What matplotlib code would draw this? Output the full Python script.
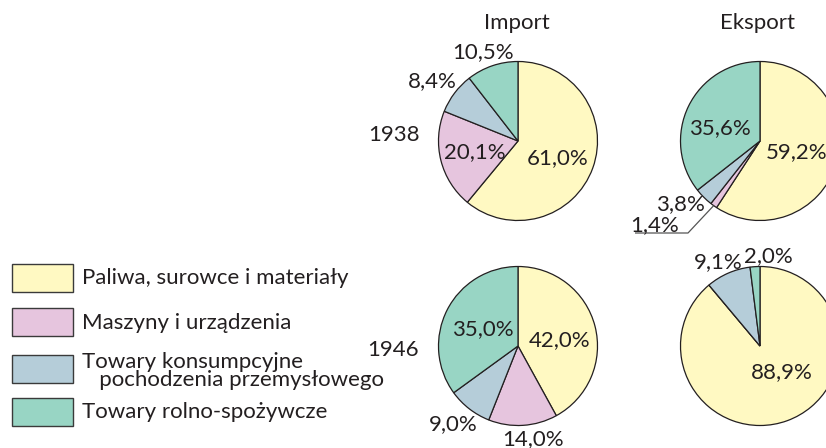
import matplotlib
matplotlib.use("Agg")
import matplotlib.pyplot as plt
from matplotlib.patches import Rectangle
import numpy as np

# data (shares in %), order: fuels, machines, consumer goods, agri-food
categories = ["Paliwa, surowce i materiały",
              "Maszyny i urządzenia",
              "Towary konsumpcyjne\n   pochodzenia przemysłowego",
              "Towary rolno-spożywcze"]
import_1938 = [61.0, 20.1, 8.4, 10.5]
export_1938 = [59.2, 1.4, 3.8, 35.6]
import_1946 = [42.0, 14.0, 9.0, 35.0]
export_1946 = [88.9, 0.0, 9.1, 2.0]
years = ["1938", "1946"]
columns = ["Import", "Eksport"]

colors = ["#fff9c2", "#e6c5de", "#b5cdd9", "#98d5c4"]
ink = "#231f20"

plt.rcParams['font.family'] = ['Lato', 'DejaVu Sans']
W, H = 826, 448
fig = plt.figure(figsize=(W / 100, H / 100), dpi=100)
ax = fig.add_axes([0, 0, 1, 1])


def Y(y):
    # pixel row (from top) -> data y
    return H - y


fs = 16
R = 79.5
centers = {("1938", "Import"): (518, 141), ("1938", "Eksport"): (760, 141),
           ("1946", "Import"): (518, 346), ("1946", "Eksport"): (760, 346)}
series = {("1938", "Import"): import_1938, ("1938", "Eksport"): export_1938,
          ("1946", "Import"): import_1946, ("1946", "Eksport"): export_1946}

# label positions (pixels) for each slice, None = no label
label_pos = {
    ("1938", "Import"): [(558, 158), (475, 152), (432, 81), (483, 52)],
    ("1938", "Eksport"): [(797, 152), (655, 225), (680, 204), (720, 128)],
    ("1946", "Import"): [(560, 340), (533, 439), (453, 424), (483, 329)],
    ("1946", "Eksport"): [(782, 372), None, (718, 262), (768, 256)],
}

for key, vals in series.items():
    cx, cy = centers[key]
    ax.pie(vals, colors=colors, startangle=90, counterclock=False,
           center=(cx, Y(cy)), radius=R,
           wedgeprops=dict(edgecolor=ink, linewidth=0.9))
    for v, pos in zip(vals, label_pos[key]):
        if pos is None:
            continue
        ax.text(pos[0], Y(pos[1]), f"{v:.1f}%".replace(".", ","),
                ha='center', va='center', fontsize=fs, color=ink)

# pie() resets the limits, so set them afterwards
ax.set_xlim(0, W)
ax.set_ylim(0, H)
ax.set_aspect('equal')
ax.axis('off')

# leader line for the tiny 1,4% slice
vals = export_1938
a_mid = 90 - (vals[0] + vals[1] / 2) * 3.6
cx, cy = centers[("1938", "Eksport")]
sx = cx + R * np.cos(np.radians(a_mid))
sy = Y(cy) + R * np.sin(np.radians(a_mid))
ax.plot([sx, 688, 635], [sy, Y(233), Y(233)], color="#555555", lw=0.9,
        solid_capstyle='butt')

# column titles and year labels
for col, x in zip(columns, [517, 758]):
    ax.text(x, Y(23), col, ha='center', va='center', fontsize=fs, color=ink)
for yr, (x, y) in zip(years, [(394, 135), (393, 350)]):
    ax.text(x, Y(y), yr, ha='center', va='center', fontsize=fs, color=ink)

# legend
box_tops = [264, 308, 355, 398]
text_y = [278, 323, 371, 412]
for c, lab, bt, ty in zip(colors, categories, box_tops, text_y):
    ax.add_patch(Rectangle((12, Y(bt + 28)), 61, 28, facecolor=c,
                           edgecolor="#3a3a3a", lw=1.0))
    ax.text(82, Y(ty), lab, ha='left', va='center', fontsize=fs,
            color=ink, linespacing=0.85)

fig.savefig("out.png", dpi=100)
